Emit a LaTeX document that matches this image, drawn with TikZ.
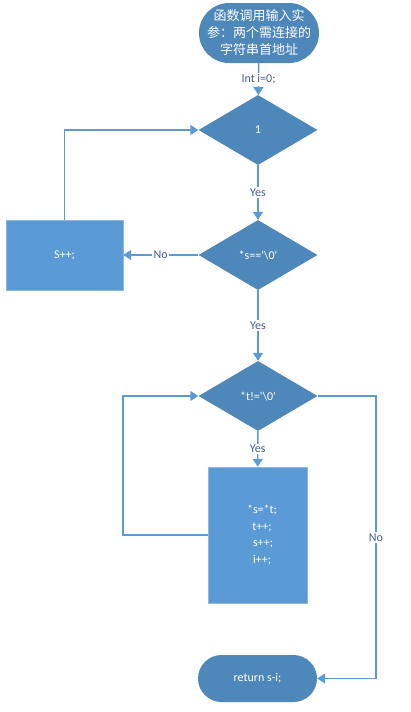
\documentclass[tikz,border=0pt]{standalone}
\usepackage{fontspec}
\setmainfont{Carlito}[Ligatures=TeXOff]
\newfontfamily\cjk{Noto Sans CJK SC}
\usetikzlibrary{shapes.geometric,arrows.meta}
\definecolor{dark}{RGB}{78,135,186}
\definecolor{light}{RGB}{91,155,213}
\definecolor{lbl}{RGB}{68,96,142}
\begin{document}
\begin{tikzpicture}[x=1pt,y=-1pt,
  font=\fontsize{12}{14}\selectfont,
  flow/.style={draw=light, line width=1.4pt, -{Triangle[width=10pt,length=8pt]}},
  lab/.style={fill=white, text=lbl, inner sep=1.5pt},
  term/.style={fill=dark, text=white, align=center, inner sep=0pt},
  dia/.style={shape=diamond, fill=dark, text=white, minimum width=119pt, minimum height=70pt, inner sep=0pt},
  box/.style={fill=light, draw=light!70!white, text=white, align=center, inner sep=0pt}]
\useasboundingbox (0,0) rectangle (410,712);
\node[term, minimum width=120pt, minimum height=60pt, rounded corners=30pt,
      font=\fontsize{13}{17}\selectfont\cjk] (start) at (259,33)
      {函数调用输入实\\参：两个需连接的\\字符串首地址};
\node[dia] (d1) at (258,130) {1};
\node[dia] (d2) at (258,255) {*s=='\textbackslash 0'};
\node[box, minimum width=117pt, minimum height=70pt] (s) at (64.5,255) {S++;};
\node[dia] (d3) at (258,396) {*t!='\textbackslash 0'};
\node[box, minimum width=99pt, minimum height=136pt, font=\fontsize{12}{16.5}\selectfont] (b2) at (257.5,535)
      {\hspace*{9pt}*s=*t;\\\hspace*{9pt}t++;\\\hspace*{11pt}s++;\\\hspace*{9pt}i++;};
\node[term, minimum width=119pt, minimum height=47pt, rounded corners=23.5pt] (end) at (257.5,678.5) {return s-i;};
\coordinate (lp) at (123,535);
\coordinate (np) at (376,396);
\coordinate (ne) at (376,678.5);
\draw[flow] (start) -- node[lab]{Int i=0;} (d1);
\draw[flow] (d1) -- node[lab]{Yes} (d2);
\draw[flow] (d2) -- node[lab]{No} (s);
\draw[flow] (s.north) |- (d1.west);
\draw[flow] (d2) -- node[lab]{Yes} (d3);
\draw[flow] (d3) -- node[lab]{Yes} (b2);
\draw[flow] (b2.west) -- (lp) |- (d3.west);
\draw[flow] (d3.east) -- (np) -- node[lab]{No} (ne) -- (end.east);
\end{tikzpicture}
\end{document}
